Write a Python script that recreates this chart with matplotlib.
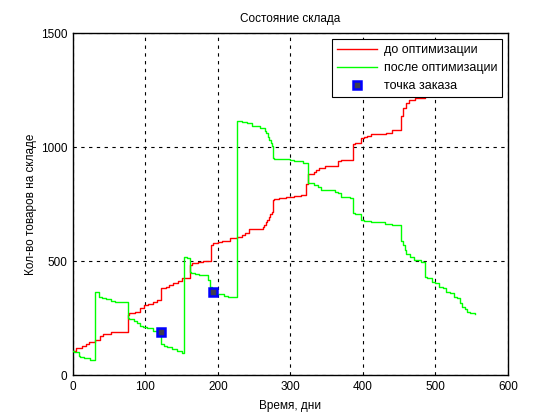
"""Warehouse stock level before and after optimisation (step plot)."""

import matplotlib

matplotlib.use("Agg")

import matplotlib.pyplot as plt

# before optimisation: day where a new level starts, and the level
BEFORE_DAYS = [
    0, 4, 12, 18, 22, 30, 38, 42, 52, 76, 78, 86, 92, 98, 104, 110, 116, 122,
    128, 132, 138, 145, 150, 162, 164, 172, 180, 191, 193, 200, 206, 217, 226,
    233, 237, 243, 262, 264, 266, 268, 270, 272, 274, 276, 277, 284, 294, 305,
    315, 322, 325, 332, 336, 340, 348, 366, 370, 387, 389, 398, 402, 405, 411,
    432, 440, 453, 456, 459, 463, 472, 485, 500, 520, 554,
]
BEFORE_STOCK = [
    107, 118, 128, 136, 145, 154, 171, 180, 189, 263, 272, 276, 294, 307, 310,
    321, 329, 380, 386, 395, 402, 413, 425, 482, 490, 496, 501, 570, 579, 583,
    589, 601, 607, 614, 624, 643, 651, 660, 670, 682, 694, 706, 716, 767, 772,
    778, 782, 787, 792, 840, 882, 892, 899, 908, 918, 940, 945, 1012, 1016,
    1038, 1045, 1048, 1057, 1063, 1075, 1136, 1170, 1192, 1206, 1215, 1230,
    1240, 1255, 1255,
]

# after optimisation
AFTER_DAYS = [
    0, 2, 8, 10, 16, 24, 31, 36, 40, 46, 52, 58, 76, 78, 84, 89, 93, 97, 103,
    110, 122, 126, 130, 137, 144, 150, 154, 157, 161, 163, 168, 174, 186, 189,
    192, 195, 197, 209, 214, 227, 234, 240, 247, 258, 265, 267, 269, 271, 273,
    275, 276, 278, 292, 300, 305, 318, 325, 327, 332, 338, 342, 348, 362, 366,
    370, 382, 387, 389, 398, 402, 411, 430, 440, 453, 455, 458, 460, 465, 471,
    480, 486, 489, 496, 500, 505, 510, 515, 520, 525, 530, 534, 537, 541, 544,
    548, 554,
]
AFTER_STOCK = [
    107, 102, 83, 80, 73, 66, 365, 344, 339, 332, 326, 322, 249, 246, 238, 228,
    215, 210, 206, 194, 135, 129, 124, 114, 105, 95, 519, 512, 453, 449, 443,
    439, 417, 387, 365, 361, 354, 348, 341, 1116, 1111, 1104, 1092, 1082, 1072,
    1060, 1046, 1032, 1018, 1004, 954, 950, 946, 943, 939, 931, 843, 841, 833,
    823, 814, 811, 804, 799, 782, 775, 712, 705, 680, 675, 670, 662, 658, 589,
    570, 548, 533, 519, 507, 497, 431, 424, 409, 402, 387, 380, 365, 358, 343,
    336, 314, 300, 292, 278, 273, 268,
]

# reorder points
ORDER_DAYS = [121, 193]
ORDER_STOCK = [190, 365]

plt.rcParams["font.family"] = ["Liberation Sans", "DejaVu Sans"]
plt.rcParams["font.size"] = 8

fig = plt.figure(figsize=(5.6, 4.2), dpi=100)
ax = fig.add_axes([0.13, 0.107, 0.777, 0.814])

ax.step(BEFORE_DAYS, BEFORE_STOCK, where="post", color="#ff0000",
        linewidth=1.0, label="до оптимизации", zorder=3)
ax.step(AFTER_DAYS, AFTER_STOCK, where="post", color="#00ff00",
        linewidth=1.0, label="после оптимизации", zorder=3)
ax.plot(ORDER_DAYS, ORDER_STOCK, linestyle="none", marker="s", markersize=6,
        markerfacecolor="#3c3c50", markeredgecolor="#0000ff",
        markeredgewidth=1.8, label="точка заказа", zorder=4)

ax.set_xlim(0, 600)
ax.set_ylim(0, 1500)
ax.set_xticks(range(0, 601, 100))
ax.set_yticks(range(0, 1501, 500))
ax.tick_params(length=0, pad=4, labelsize=8.5)
ax.grid(True, color="black", linestyle=(0, (3, 4)), linewidth=0.8)
ax.set_axisbelow(True)
for spine in ax.spines.values():
    spine.set_linewidth(1.0)

ax.set_title("Состояние склада", fontsize=8.5, pad=8)
ax.set_xlabel("Время, дни", fontsize=8.5, labelpad=5)
ax.set_ylabel("Кол-во товаров на складе", fontsize=8.5, labelpad=3)

leg = ax.legend(loc="upper right", fancybox=False, framealpha=1.0,
                edgecolor="black", borderaxespad=0.45, handlelength=3.2,
                handletextpad=0.5, fontsize=9, borderpad=0.42,
                labelspacing=0.48)
leg.get_frame().set_linewidth(0.8)
leg.set_zorder(10)

fig.savefig("out.png", dpi=100)
plt.close(fig)
